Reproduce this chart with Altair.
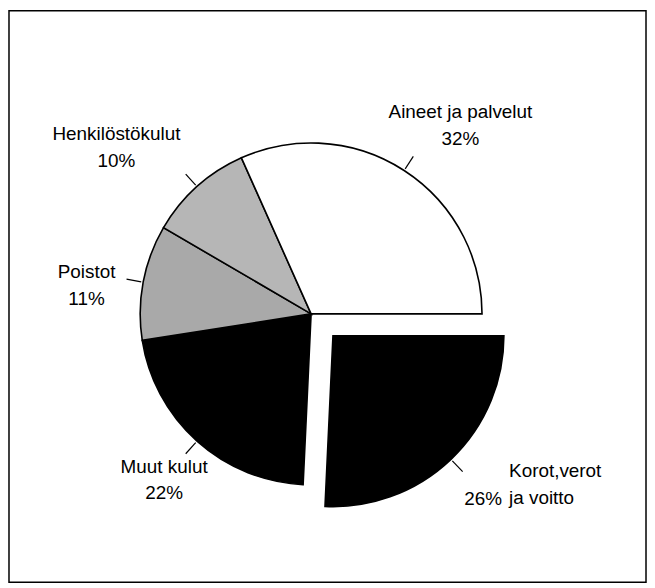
import math
import altair as alt
import pandas as pd

# Slices in clockwise order, starting at 3 o'clock
categories = ["Korot,verot ja voitto", "Muut kulut", "Poistot", "Henkilöstökulut", "Aineet ja palvelut"]
label_names = ["Korot,verot\nja voitto", "Muut kulut", "Poistot", "Henkilöstökulut", "Aineet ja palvelut"]
shares = [26, 22, 11, 10, 32]
fills = ["#000000", "#000000", "#a9a9a9", "#b6b6b6", "#ffffff"]

df = pd.DataFrame({"cat": categories, "name": label_names, "pct": shares, "ord": list(range(len(categories)))})

CX, CY = 304, 305      # pie centre (pixels in the view)
OFF = 22               # explode offset of the first slice
R = 172                # pie radius
FONT = "Liberation Sans"
exploded = categories[0]

theta = alt.Theta("pct:Q", stack=True, scale=alt.Scale(range=[math.pi / 2, math.pi / 2 + 2 * math.pi]))
fill = alt.Fill("cat:N", scale=alt.Scale(domain=categories, range=fills), legend=None)

pie = alt.Chart(df).mark_arc(radius=R, stroke="black", strokeWidth=1.6).encode(
    theta=theta, order=alt.Order("ord:Q"), fill=fill,
    opacity=alt.condition(alt.datum.cat == exploded, alt.value(0), alt.value(1)),
    x=alt.value(CX), y=alt.value(CY),
)
piece = alt.Chart(df).mark_arc(radius=R, stroke="black", strokeWidth=1.6).encode(
    theta=theta, order=alt.Order("ord:Q"), fill=fill,
    opacity=alt.condition(alt.datum.cat == exploded, alt.value(1), alt.value(0)),
    x=alt.value(CX + OFF), y=alt.value(CY + OFF),
)

base = alt.Chart(df).transform_joinaggregate(
    total="sum(pct)"
).transform_window(
    cum="sum(pct)", sort=[alt.SortField("ord")], frame=[None, 0]
).transform_calculate(
    mid="(datum.cum - datum.pct/2) / datum.total * 2 * PI + PI/2",
    ox=f"datum.cat == '{exploded}' ? {OFF} : 0",
).transform_calculate(
    cx=f"{CX} + datum.ox", cy=f"{CY} + datum.ox",
).transform_calculate(
    tx1=f"datum.cx + {R + 2} * sin(datum.mid)", ty1=f"datum.cy - {R + 2} * cos(datum.mid)",
    tx2=f"datum.cx + {R + 17} * sin(datum.mid)", ty2=f"datum.cy - {R + 17} * cos(datum.mid)",
    lx="datum.cx + 232 * sin(datum.mid)", ly="datum.cy - 232 * cos(datum.mid)",
    label="datum.name + '\\n' + datum.pct + '%'", pcttxt="datum.pct + '%'",
)

ticks = base.mark_rule(color="black", strokeWidth=1.2).encode(
    x=alt.X("tx1:Q", scale=None, axis=None), y=alt.Y("ty1:Q", scale=None, axis=None),
    x2="tx2:Q", y2="ty2:Q",
)

def label_layer(cat, dx, dy, field="label", align="center"):
    return base.transform_filter(alt.datum.cat == cat).mark_text(
        font=FONT, fontSize=19, lineBreak="\n", lineHeight=27, align=align,
        baseline="middle", dx=dx, dy=dy, color="black",
    ).encode(
        x=alt.X("lx:Q", scale=None, axis=None), y=alt.Y("ly:Q", scale=None, axis=None),
        text=f"{field}:N",
    )

labels = [
    label_layer("Aineet ja palvelut", 24, -8),
    label_layer("Henkilöstökulut", -41, -8),
    label_layer("Poistot", 2, 1),
    label_layer("Muut kulut", 7, -19),
    label_layer(exploded, 17, -32, field="name", align="left"),
    label_layer(exploded, 10, -4, field="pcttxt", align="right"),
]

chart = alt.layer(pie, piece, ticks, *labels).properties(
    width=641, height=575, padding=1,
).configure_view(stroke="black", strokeWidth=1.5)

chart.save("out.html", embed_options={"renderer": "svg", "actions": False})
